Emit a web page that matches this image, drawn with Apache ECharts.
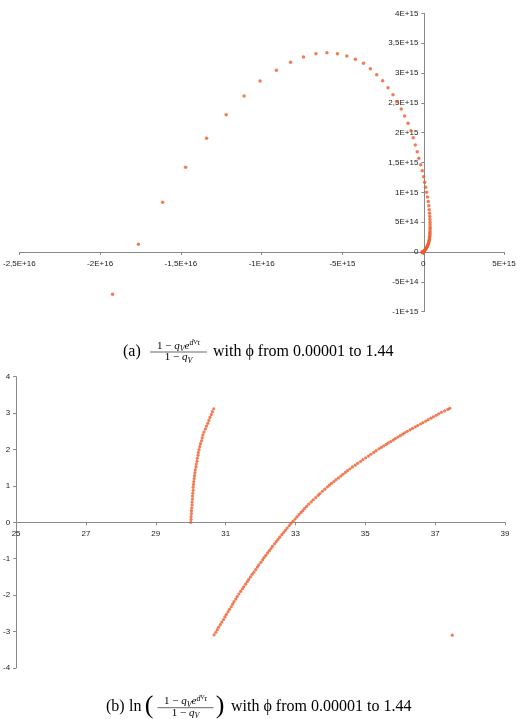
<!DOCTYPE html>
<html>
<head>
<meta charset="utf-8">
<script src="https://cdn.jsdelivr.net/npm/echarts@6/dist/echarts.min.js"></script>
<style>
html,body{margin:0;padding:0;background:#fff;}
#c{width:525px;height:719px;}
</style>
</head>
<body>
<div id="c"></div>
<script>
// ---------- chart (a) data ----------
const topX = [-1.923e16,-1.763e16,-1.613e16,-1.471e16,-1.341e16,-1.220e16,-1.109e16,-1.010e16,-9.09e15,-8.21e15,-7.41e15,-6.64e15,-5.96e15,-5.31e15,-4.73e15,-4.20e15,-3.70e15,-3.27e15,-2.88e15,-2.51e15,-2.18e15,-1.87e15,-1.60e15,-1.36e15,-1.15e15,-9.4e14,-7.6e14,-6.2e14,-4.9e14,-3.7e14,-2.7e14,-1.6e14,-6e13,2e13,9e13,1.5e14,2.1e14,
  2.7e14,3.1e14,3.45e14,3.7e14,3.9e14,4.05e14,4.15e14,4.2e14,4.25e14,4.25e14,4.25e14,4.2e14,4.15e14,4.1e14,4.0e14,3.9e14,3.8e14,3.65e14,3.5e14,3.3e14,3.1e14,2.9e14,2.65e14,2.4e14,2.15e14,1.9e14,1.65e14,1.4e14,1.15e14,9e13,7e13,5e13,3e13,1.5e13,0,-1.5e13,-3e13,-4.5e13,-5.5e13,-6e13,-6e13,-5.5e13];
const topY = [-7.09e14,1.29e14,8.33e14,1.419e15,1.905e15,2.30e15,2.614e15,2.865e15,3.044e15,3.18e15,3.267e15,3.323e15,3.34e15,3.323e15,3.284e15,3.229e15,3.161e15,3.072e15,2.971e15,2.871e15,2.753e15,2.636e15,2.52e15,2.396e15,2.279e15,2.156e15,2.033e15,1.915e15,1.793e15,1.681e15,1.57e15,1.463e15,1.362e15,1.262e15,1.168e15,1.084e15,1.0e15,
  9.2e14,8.45e14,7.75e14,7.1e14,6.5e14,5.95e14,5.45e14,5.0e14,4.55e14,4.15e14,3.8e14,3.45e14,3.15e14,2.85e14,2.6e14,2.35e14,2.1e14,1.9e14,1.7e14,1.5e14,1.35e14,1.2e14,1.05e14,9e13,7.8e13,6.6e13,5.5e13,4.5e13,3.6e13,2.8e13,2e13,1.3e13,7e12,2e12,-3e12,-6e12,-8e12,-8e12,-6e12,-3e12,0,3e12];
const topXLabels = ['-2,5E+16','-2E+16','-1,5E+16','-1E+16','-5E+15','0','5E+15'];
const topYLabels = ['-1E+15','-5E+14','0','5E+14','1E+15','1,5E+15','2E+15','2,5E+15','3E+15','3,5E+15','4E+15'];

// ---------- chart (b) data ----------
const botLeftX = [30.00,30.01,30.01,30.02,30.02,30.03,30.04,30.04,30.05,30.05,30.06,30.07,30.07,30.08,30.09,30.10,30.11,30.12,30.13,30.15,30.16,30.18,30.19,30.21,30.22,30.24,30.26,30.28,30.31,30.33,30.35,30.38,30.42,30.45,30.49,30.52,30.55,30.59,30.62,30.66];
const botLeftY = [0.00,0.08,0.16,0.24,0.32,0.40,0.48,0.56,0.64,0.72,0.80,0.88,0.96,1.04,1.12,1.20,1.28,1.36,1.44,1.52,1.60,1.68,1.76,1.84,1.92,2.00,2.08,2.16,2.24,2.32,2.40,2.48,2.56,2.64,2.72,2.80,2.88,2.96,3.04,3.12];
const botRightX = [30.67,30.72,30.76,30.80,30.85,30.89,30.94,30.98,31.02,31.07,31.11,31.16,31.20,31.24,31.29,31.33,
  31.38,31.43,31.48,31.52,31.57,31.62,31.66,31.71,31.76,31.81,31.86,31.91,31.95,32.01,32.06,
  32.10,32.15,32.20,32.25,32.30,32.34,32.40,32.45,32.50,32.55,32.61,32.66,32.71,32.76,32.82,32.87,
  32.93,32.99,33.04,33.10,33.16,33.21,33.26,33.32,33.38,33.45,33.51,33.58,33.65,33.70,33.77,33.84,33.91,
  33.97,34.03,34.10,34.16,34.23,34.30,34.36,34.43,34.49,34.56,34.63,34.71,34.78,34.86,34.93,35.01,35.09,35.16,35.24,35.31,
  35.39,35.46,35.53,35.60,35.66,35.73,35.80,35.86,35.93,36.00,36.07,36.13,36.20,36.28,36.35,36.43,36.50,36.58,36.65,36.73,36.80,36.88,36.95,37.03,37.10,37.18,37.27,37.36,37.42,
  37.49];
const botRightY = [-3.09,-3.02,-2.95,-2.88,-2.81,-2.74,-2.67,-2.60,-2.53,-2.46,-2.39,-2.32,-2.25,-2.18,-2.11,-2.04,
  -1.97,-1.90,-1.83,-1.77,-1.70,-1.63,-1.57,-1.50,-1.43,-1.37,-1.30,-1.23,-1.17,-1.10,-1.03,
  -0.97,-0.91,-0.84,-0.78,-0.72,-0.66,-0.59,-0.53,-0.47,-0.41,-0.34,-0.28,-0.22,-0.16,-0.09,-0.03,
  0.03,0.09,0.15,0.21,0.27,0.32,0.38,0.44,0.50,0.56,0.62,0.68,0.74,0.79,0.85,0.91,0.97,
  1.02,1.07,1.12,1.17,1.22,1.27,1.32,1.37,1.42,1.47,1.52,1.57,1.62,1.67,1.72,1.77,1.82,1.87,1.92,1.97,
  2.02,2.06,2.10,2.14,2.18,2.22,2.26,2.30,2.34,2.38,2.42,2.46,2.50,2.54,2.58,2.62,2.66,2.70,2.74,2.78,2.82,2.86,2.90,2.94,2.98,3.02,3.06,3.10,3.13,
  -3.10];
const botXLabels = ['25','27','29','31','33','35','37','39'];
const botYLabels = ['-4','-3','-2','-1','0','1','2','3','4'];

// ---------- build ----------
const zip = (a, b) => a.map((v, i) => [v, b[i]]);
const MARK = '#ef5b2b';
const AXIS = '#8a8a8a';
const SANS = 'Liberation Sans, Arial, sans-serif';
const SERIF = 'Liberation Serif, Times New Roman, serif';

const G1 = { left: 18, top: 13.3, width: 486, height: 298.4 };
const G2 = { left: 16, top: 376.7, width: 489, height: 291.2 };
const T = { xMin: -2.5e16, xMax: 5e15, xStep: 5e15, yMin: -1e15, yMax: 4e15, yStep: 5e14 };
const B = { xMin: 25, xMax: 39, xStep: 2, yMin: -4, yMax: 4, yStep: 1 };

function valAxis(gi, min, max, step, labels, pos, offset, margin) {
  return {
    type: 'value', gridIndex: gi, min: min, max: max, interval: step,
    position: pos, offset: offset,
    splitLine: { show: false },
    axisLine: { show: true, onZero: false, lineStyle: { color: AXIS, width: 1 } },
    axisTick: { show: true, length: 3, lineStyle: { color: AXIS } },
    axisLabel: {
      fontSize: 8, fontFamily: SANS, color: '#222', margin: margin,
      formatter: v => labels[Math.round((v - min) / step)]
    }
  };
}
// axes cross at zero where zero lies inside the range
const zeroOff = (min, max, len) => (min < 0 && max > 0) ? -((0 - min) / (max - min)) * len : 0;

const chart = echarts.init(document.getElementById('c'), null, { renderer: 'canvas' });

const supRich = {
  n: { fontSize: 11, fontFamily: SERIF, lineHeight: 14, verticalAlign: 'middle' },
  i: { fontSize: 11, fontFamily: SERIF, fontStyle: 'italic', lineHeight: 14, verticalAlign: 'middle' },
  s: { fontSize: 8, fontFamily: SERIF, fontStyle: 'italic', lineHeight: 8, verticalAlign: 'bottom' },
  p: { fontSize: 8, fontFamily: SERIF, fontStyle: 'italic', lineHeight: 9, verticalAlign: 'top' },
  q: { fontSize: 6, fontFamily: SERIF, fontStyle: 'italic', lineHeight: 11, verticalAlign: 'top' }
};
function frac(cx, yNum, yLine, yDen, w) {
  return [
    { type: 'text', x: cx, y: yNum, style: { text: '{n|1 − }{i|q}{s|V}{i|e}{p|d}{q|V}{p|τ}', rich: supRich, align: 'center', verticalAlign: 'middle', fill: '#000' } },
    { type: 'line', shape: { x1: cx - w / 2, y1: yLine, x2: cx + w / 2, y2: yLine }, style: { stroke: '#000', lineWidth: 0.6 } },
    { type: 'text', x: cx, y: yDen, style: { text: '{n|1 − }{i|q}{s|V}', rich: supRich, align: 'center', verticalAlign: 'middle', fill: '#000' } }
  ];
}
const capFont = '16px ' + SERIF;

chart.setOption({
  animation: false,
  backgroundColor: '#fff',
  grid: [
    Object.assign({ containLabel: false }, G1),
    Object.assign({ containLabel: false }, G2)
  ],
  xAxis: [
    valAxis(0, T.xMin, T.xMax, T.xStep, topXLabels, 'bottom', zeroOff(T.yMin, T.yMax, G1.height), 8),
    valAxis(1, B.xMin, B.xMax, B.xStep, botXLabels, 'bottom', zeroOff(B.yMin, B.yMax, G2.height), 7)
  ],
  yAxis: [
    valAxis(0, T.yMin, T.yMax, T.yStep, topYLabels, 'left', zeroOff(T.xMin, T.xMax, G1.width), 6),
    valAxis(1, B.yMin, B.yMax, B.yStep, botYLabels, 'left', 0, 6)
  ],
  series: [
    { type: 'scatter', xAxisIndex: 0, yAxisIndex: 0, data: zip(topX, topY), symbol: 'circle', symbolSize: 3.5, itemStyle: { color: MARK }, silent: true },
    { type: 'scatter', xAxisIndex: 1, yAxisIndex: 1, data: zip(botLeftX, botLeftY), symbol: 'circle', symbolSize: 3.2, itemStyle: { color: MARK }, silent: true },
    { type: 'scatter', xAxisIndex: 1, yAxisIndex: 1, data: zip(botRightX, botRightY), symbol: 'circle', symbolSize: 3.2, itemStyle: { color: MARK }, silent: true }
  ],
  graphic: [].concat(
    [{ type: 'text', x: 123, y: 352, style: { text: '(a)', font: capFont, fill: '#000', align: 'left', verticalAlign: 'middle' } }],
    frac(178.5, 346, 352, 357.5, 57),
    [{ type: 'text', x: 213, y: 352, style: { text: 'with ϕ from 0.00001 to 1.44', font: capFont, fill: '#000', align: 'left', verticalAlign: 'middle' } }],
    [
      { type: 'text', x: 106, y: 707, style: { text: '(b)', font: capFont, fill: '#000', align: 'left', verticalAlign: 'middle' } },
      { type: 'text', x: 129, y: 707, style: { text: 'ln', font: capFont, fill: '#000', align: 'left', verticalAlign: 'middle' } },
      { type: 'text', x: 149, y: 706, style: { text: '(', font: '26px ' + SERIF, fill: '#000', align: 'center', verticalAlign: 'middle' } },
      { type: 'text', x: 220, y: 706, style: { text: ')', font: '26px ' + SERIF, fill: '#000', align: 'center', verticalAlign: 'middle' } }
    ],
    frac(185.5, 701.5, 707.7, 713.3, 56),
    [{ type: 'text', x: 231, y: 707, style: { text: 'with ϕ from 0.00001 to 1.44', font: capFont, fill: '#000', align: 'left', verticalAlign: 'middle' } }]
  )
});
</script>
</body>
</html>
